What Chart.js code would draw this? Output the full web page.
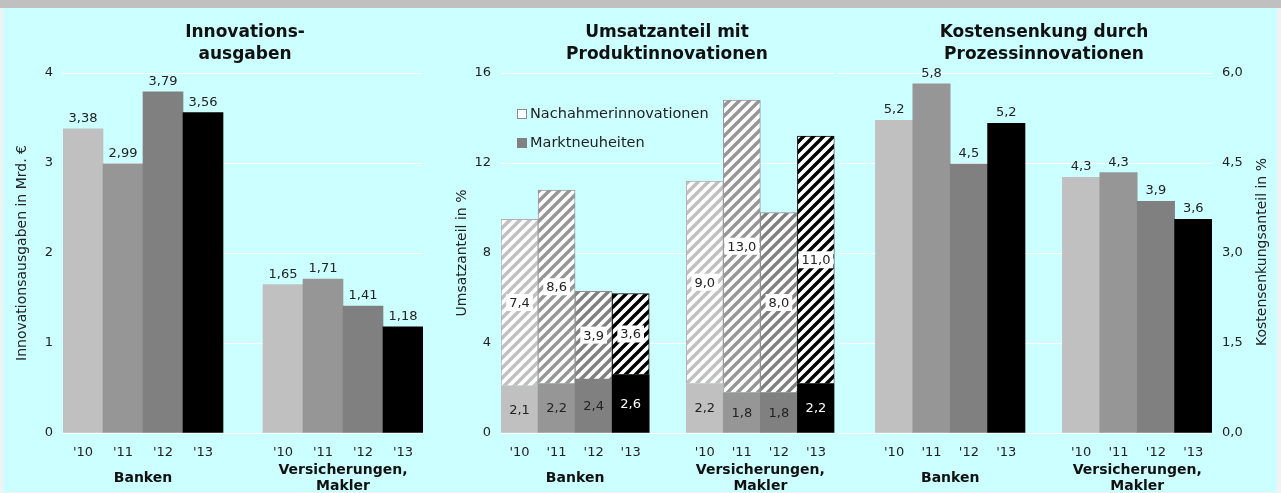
<!DOCTYPE html>
<html>
<head>
<meta charset="utf-8">
<script src="https://cdn.jsdelivr.net/npm/chart.js@4"></script>
<style>
  body { margin: 0; background: #f2f2f2; }
  #frame { position: absolute; left: 0; top: 0; width: 1281px; height: 493px; overflow: hidden; }
  #band { position: absolute; left: 0; top: 0; width: 1281px; height: 8px; background: #c0c0c0; }
  #paper { position: absolute; left: 3px; top: 8px; width: 1274px; height: 484px; background: #ccffff; }
  canvas { position: absolute; top: 0; }
</style>
</head>
<body>
<div id="frame">
  <div id="band"></div>
  <div id="paper"></div>
  <canvas id="ausgaben" width="430" height="493" style="left:0"></canvas>
  <canvas id="umsatz" width="408" height="493" style="left:430px"></canvas>
  <canvas id="kosten" width="443" height="493" style="left:838px"></canvas>
</div>
<script>
'use strict';

const years = ["'10", "'11", "'12", "'13"];
const groupLabels = ['Banken', ['Versicherungen,', 'Makler']];

// Innovationsausgaben in Mrd. €
const ausgabenBanken = [3.38, 2.99, 3.79, 3.56];
const ausgabenVers = [1.65, 1.71, 1.41, 1.18];

// Umsatzanteil mit Produktinnovationen, in %
const marktBanken = [2.1, 2.2, 2.4, 2.6];
const marktVers = [2.2, 1.8, 1.8, 2.2];
const nachahmerBanken = [7.4, 8.6, 3.9, 3.6];
const nachahmerVers = [9.0, 13.0, 8.0, 11.0];

// Kostensenkung durch Prozessinnovationen, in %
const kostenBanken = [5.21, 5.82, 4.48, 5.16];
const kostenVers = [4.26, 4.34, 3.86, 3.56];

const ticksAusgaben = [0, 1, 2, 3, 4];
const ticksUmsatz = [0, 4, 8, 12, 16];
const ticksKosten = [0, 1.5, 3, 4.5, 6];

const yearColors = ['#c0c0c0', '#969696', '#808080', '#000000'];
const hatchBorders = ['#b0b0b0', '#9a9a9a', '#8c8c8c', '#000000'];

Chart.defaults.font.family = '"DejaVu Sans", Verdana, sans-serif';
Chart.defaults.color = '#222';

// banken, gap, versicherungen
const slots = (a, b) => [...a, null, ...b];
const slotColors = (c) => [...c, 'rgba(0,0,0,0)', ...c];
const comma = (v, d) => v.toFixed(d).replace('.', ',');

function hatch(color) {
  const n = 10;
  const c = document.createElement('canvas');
  c.width = c.height = n;
  const g = c.getContext('2d');
  g.fillStyle = '#fff';
  g.fillRect(0, 0, n, n);
  g.strokeStyle = color;
  g.lineWidth = 3.4;
  g.beginPath();
  g.moveTo(-1, n + 1); g.lineTo(n + 1, -1);
  g.moveTo(-n / 2, n / 2); g.lineTo(n / 2, -n / 2);
  g.moveTo(n / 2, n * 1.5); g.lineTo(n * 1.5, n / 2);
  g.stroke();
  return g.createPattern(c, 'repeat');
}

// texts at fixed spots of a panel (titles, right axis title)
function textPlugin(items) {
  return {
    id: 'panelText',
    afterDraw(chart) {
      const ctx = chart.ctx;
      items.forEach(t => {
        ctx.save();
        ctx.font = t.font;
        ctx.fillStyle = t.color || '#111';
        ctx.textAlign = 'center';
        ctx.textBaseline = t.baseline || 'alphabetic';
        ctx.translate(t.x, t.y);
        if (t.rotate) ctx.rotate(t.rotate);
        ctx.fillText(t.text, 0, 0);
        ctx.restore();
      });
    }
  };
}

// value above each bar
function topLabels(digits) {
  return {
    id: 'topLabels',
    afterDatasetsDraw(chart) {
      const ctx = chart.ctx;
      ctx.save();
      ctx.font = '13px "DejaVu Sans"';
      ctx.fillStyle = '#222';
      ctx.textAlign = 'center';
      ctx.textBaseline = 'alphabetic';
      chart.data.datasets.forEach((ds, di) => {
        chart.getDatasetMeta(di).data.forEach((bar, i) => {
          const v = ds.data[i];
          if (v == null) return;
          ctx.fillText(comma(v, digits), bar.x, bar.y - 7);
        });
      });
      ctx.restore();
    }
  };
}

// value in the middle of each stacked segment
const inLabels = {
  id: 'inLabels',
  afterDatasetsDraw(chart) {
    const ctx = chart.ctx;
    ctx.save();
    ctx.font = '13px "DejaVu Sans"';
    ctx.textAlign = 'center';
    ctx.textBaseline = 'middle';
    chart.data.datasets.forEach((ds, di) => {
      chart.getDatasetMeta(di).data.forEach((bar, i) => {
        const v = ds.data[i];
        if (v == null) return;
        const txt = comma(v, 1);
        const cy = (bar.y + bar.base) / 2;
        if (ds.boxed) {
          const w = ctx.measureText(txt).width + 6;
          ctx.fillStyle = '#fff';
          ctx.fillRect(bar.x - w / 2, cy - 8.5, w, 17);
          ctx.fillStyle = '#222';
        } else {
          ctx.fillStyle = (i % 5) === 3 ? '#fff' : '#222';
        }
        ctx.fillText(txt, bar.x, cy + 1);
      });
    });
    ctx.restore();
  }
};

const umsatzLegend = {
  id: 'umsatzLegend',
  afterDraw(chart) {
    const ctx = chart.ctx;
    ctx.save();
    ctx.fillStyle = '#fff';
    ctx.fillRect(87, 109, 10, 10);
    ctx.strokeStyle = '#8a8a8a';
    ctx.lineWidth = 1;
    ctx.strokeRect(87.5, 109.5, 9, 9);
    ctx.fillStyle = '#808080';
    ctx.fillRect(87, 138, 10, 10);
    ctx.font = '14.5px "DejaVu Sans"';
    ctx.fillStyle = '#222';
    ctx.textBaseline = 'middle';
    ctx.fillText('Nachahmerinnovationen', 100, 114);
    ctx.fillText('Marktneuheiten', 100, 143);
    ctx.restore();
  }
};

function catAxis(stacked) {
  return {
    weight: 1,
    stacked,
    grid: { display: false, drawTicks: false },
    border: { display: false },
    ticks: { autoSkip: false, maxRotation: 0, minRotation: 0, padding: 12, font: { size: 13 } },
    afterFit: (s) => { s.height = 27; },
  };
}

function groupAxis(centers, min, max) {
  return {
    type: 'linear',
    position: 'bottom',
    weight: 2,
    offset: false,
    min, max,
    grid: { display: false, drawTicks: false },
    border: { display: false },
    afterBuildTicks: (s) => { s.ticks = centers.map(v => ({ value: v })); },
    afterFit: (s) => { s.height = 33; },
    ticks: {
      autoSkip: false, maxRotation: 0, minRotation: 0, padding: 10,
      crossAlign: 'center',
      font: { size: 14, weight: 'bold' }, color: '#111',
      callback: (v, i) => groupLabels[i],
    },
  };
}

function valAxis(t, width, fmt, extra) {
  return Object.assign({
    min: t[0],
    max: t[t.length - 1],
    grid: { color: '#ffffff', lineWidth: 1, drawTicks: false },
    border: { display: false },
    ticks: { stepSize: t[1] - t[0], padding: 10, font: { size: 13 }, callback: fmt },
    afterFit: (s) => { s.width = width; },
  }, extra);
}

const common = {
  responsive: false,
  animation: false,
  devicePixelRatio: 1,
  plugins: { legend: { display: false }, tooltip: { enabled: false } },
};

/* Panel 1: Innovationsausgaben */
new Chart(document.getElementById('ausgaben'), {
  type: 'bar',
  data: {
    labels: [...years, '', ...years],
    datasets: [{
      data: slots(ausgabenBanken, ausgabenVers),
      backgroundColor: slotColors(yearColors),
      categoryPercentage: 1, barPercentage: 1,
    }],
  },
  options: Object.assign({}, common, {
    layout: { padding: { top: 73, right: 7, bottom: 0, left: 0 } },
    scales: {
      x: catAxis(false),
      grp: groupAxis([1.5, 6.5], -0.5, 8.5),
      y: valAxis(ticksAusgaben, 63, (v) => String(v), {
        title: { display: true, text: 'Innovationsausgaben in Mrd. €', font: { size: 14 }, padding: { top: 13.6, bottom: 0 } },
      }),
    },
  }),
  plugins: [topLabels(2), textPlugin([
    { text: 'Innovations-', x: 245, y: 37, font: 'bold 17px "DejaVu Sans"' },
    { text: 'ausgaben', x: 245, y: 59, font: 'bold 17px "DejaVu Sans"' },
  ])],
});

/* Panel 2: Umsatzanteil mit Produktinnovationen */
new Chart(document.getElementById('umsatz'), {
  type: 'bar',
  data: {
    labels: [...years, '', ...years],
    datasets: [{
      label: 'Marktneuheiten',
      data: slots(marktBanken, marktVers),
      backgroundColor: slotColors(yearColors),
      categoryPercentage: 1, barPercentage: 1,
    }, {
      label: 'Nachahmerinnovationen',
      boxed: true,
      data: slots(nachahmerBanken, nachahmerVers),
      backgroundColor: slotColors(yearColors.map(hatch)),
      borderColor: slotColors(hatchBorders),
      borderWidth: 1,
      categoryPercentage: 1, barPercentage: 1,
    }],
  },
  options: Object.assign({}, common, {
    layout: { padding: { top: 73, right: 0, bottom: 0, left: 0 } },
    scales: {
      x: catAxis(true),
      grp: groupAxis([1.5, 6.5], -0.5, 8.5),
      y: valAxis(ticksUmsatz, 71, (v) => String(v), {
        stacked: true,
        title: { display: true, text: 'Umsatzanteil in %', font: { size: 14 }, padding: { top: 23.6, bottom: 0 } },
      }),
    },
  }),
  plugins: [inLabels, umsatzLegend, textPlugin([
    { text: 'Umsatzanteil mit', x: 237, y: 37, font: 'bold 17px "DejaVu Sans"' },
    { text: 'Produktinnovationen', x: 237, y: 59, font: 'bold 17px "DejaVu Sans"' },
  ])],
});

/* Panel 3: Kostensenkung durch Prozessinnovationen */
new Chart(document.getElementById('kosten'), {
  type: 'bar',
  data: {
    labels: ['', ...years, '', ...years],
    datasets: [{
      data: [null, ...slots(kostenBanken, kostenVers)],
      backgroundColor: ['rgba(0,0,0,0)', ...slotColors(yearColors)],
      categoryPercentage: 1, barPercentage: 1,
    }],
  },
  options: Object.assign({}, common, {
    layout: { padding: { top: 73, right: 0, bottom: 0, left: 0 } },
    scales: {
      x: catAxis(false),
      grp: groupAxis([2.5, 7.5], -0.5, 9.5),
      y: valAxis(ticksKosten, 69, (v) => comma(v, 1), { position: 'right' }),
    },
  }),
  plugins: [topLabels(1), textPlugin([
    { text: 'Kostensenkung durch', x: 206, y: 37, font: 'bold 17px "DejaVu Sans"' },
    { text: 'Prozessinnovationen', x: 206, y: 59, font: 'bold 17px "DejaVu Sans"' },
    { text: 'Kostensenkungsanteil in %', x: 424, y: 252, font: '14px "DejaVu Sans"', color: '#222', baseline: 'middle', rotate: -Math.PI / 2 },
  ])],
});
</script>
</body>
</html>
